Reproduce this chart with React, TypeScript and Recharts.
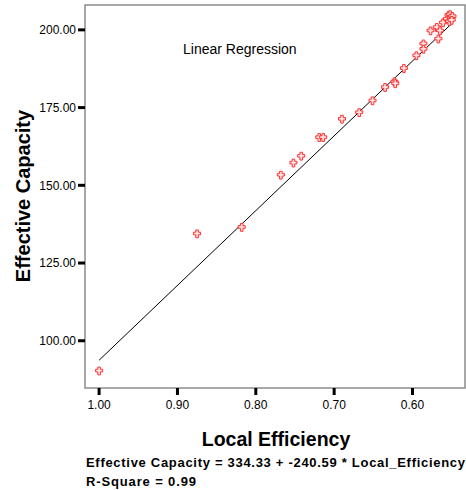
import { ScatterChart, Scatter, XAxis, YAxis, ReferenceArea } from 'recharts';

// observed points: local efficiency vs effective capacity
const efficiency = [
  1.0, 0.875, 0.818, 0.768, 0.752, 0.742, 0.719, 0.714, 0.69, 0.668, 0.651, 0.635, 0.623, 0.622,
  0.611, 0.595, 0.586, 0.586, 0.577, 0.569, 0.567, 0.565, 0.561, 0.556, 0.554, 0.553, 0.552,
  0.551, 0.549, 0.55,
];
const capacity = [
  90.4, 134.5, 136.6, 153.4, 157.3, 159.5, 165.5, 165.5, 171.4, 173.5, 177.3, 181.6, 183.4, 182.8,
  187.7, 191.8, 195.6, 193.9, 199.8, 200.9, 197.2, 199.8, 202.4, 203.6, 204.8, 202.8, 205.0,
  203.9, 204.4, 203.2,
];

// fitted line: capacity = INTERCEPT + SLOPE * efficiency
const INTERCEPT = 334.33;
const SLOPE = -240.59;
const fitRange = [1.0, 0.55];

const xTicks = [1.0, 0.9, 0.8, 0.7, 0.6];
const yTicks = [100, 125, 150, 175, 200];
const X_DOMAIN: [number, number] = [0.533, 1.018];
const Y_DOMAIN: [number, number] = [84.8, 208];

const points = efficiency.map((x, i) => ({ x, y: capacity[i] }));
const fitLine = fitRange.map((x) => ({ x, y: INTERCEPT + SLOPE * x }));

const FONT = '"Liberation Sans", Arial, sans-serif';

// little outlined cross used by SPSS for scatter markers
const CrossMarker = (props: any) => {
  const { cx, cy } = props;
  if (cx == null || cy == null) return null;
  const a = 1.3;
  const r = 3.5;
  const pts = [
    [-a, -r], [a, -r], [a, -a], [r, -a], [r, a], [a, a],
    [a, r + 0.8], [-a, r + 0.8], [-a, a], [-r, a], [-r, -a], [-a, -a],
  ]
    .map(([dx, dy]) => `${cx + dx},${cy + dy}`)
    .join(' ');
  return <polygon points={pts} fill="#ffe0e0" stroke="#ff3030" strokeWidth={1} />;
};

const App = () => {
  return (
    <div style={{ position: 'absolute', left: 0, top: 0, width: 466, height: 490, background: '#fff', fontFamily: FONT }}>
      <ScatterChart width={466} height={490} margin={{ top: 5, right: 1, bottom: 62, left: 0 }}>
        <XAxis
          type="number"
          dataKey="x"
          domain={X_DOMAIN}
          reversed
          allowDataOverflow
          ticks={xTicks}
          tickFormatter={(v: number) => v.toFixed(2)}
          height={40}
          axisLine={false}
          tickLine={{ stroke: '#000', strokeWidth: 3 }}
          tickSize={7}
          tickMargin={5}
          tick={{ fill: '#000', fontSize: 12, fontFamily: FONT }}
        />
        <YAxis
          type="number"
          dataKey="y"
          domain={Y_DOMAIN}
          allowDataOverflow
          ticks={yTicks}
          tickFormatter={(v: number) => v.toFixed(2)}
          width={85}
          axisLine={false}
          tickLine={{ stroke: '#000', strokeWidth: 3 }}
          tickSize={7}
          tickMargin={2}
          tick={{ fill: '#000', fontSize: 12, fontFamily: FONT }}
        />
        <ReferenceArea
          x1={X_DOMAIN[0]}
          x2={X_DOMAIN[1]}
          y1={Y_DOMAIN[0]}
          y2={Y_DOMAIN[1]}
          fill="none"
          stroke="#8c8c8c"
          strokeWidth={1.5}
        />
        <Scatter
          data={fitLine}
          line={{ stroke: '#000', strokeWidth: 1 }}
          shape={() => null}
          isAnimationActive={false}
        />
        <Scatter data={points} shape={<CrossMarker />} isAnimationActive={false} />
      </ScatterChart>

      <svg
        width={466}
        height={490}
        style={{ position: 'absolute', left: 0, top: 0, pointerEvents: 'none' }}
        fontFamily={FONT}
      >
        <text x={183} y={54} fontSize={14} fill="#000">
          Linear Regression
        </text>
        <text
          x={29.5}
          y={196}
          fontSize={20}
          fontWeight="bold"
          textAnchor="middle"
          transform="rotate(-90, 29.5, 196)"
          fill="#000"
        >
          Effective Capacity
        </text>
        <text x={276} y={446} fontSize={19.5} fontWeight="bold" textAnchor="middle" fill="#000">
          Local Efficiency
        </text>
        <text x={86} y={467} fontSize={13} fontWeight="bold" fill="#000" textLength={379} lengthAdjust="spacing">
          Effective Capacity = 334.33 + -240.59 * Local_Efficiency
        </text>
        <text x={86} y={486} fontSize={13} fontWeight="bold" fill="#000" textLength={110} lengthAdjust="spacing">
          R-Square = 0.99
        </text>
      </svg>
    </div>
  );
};

export default App;
